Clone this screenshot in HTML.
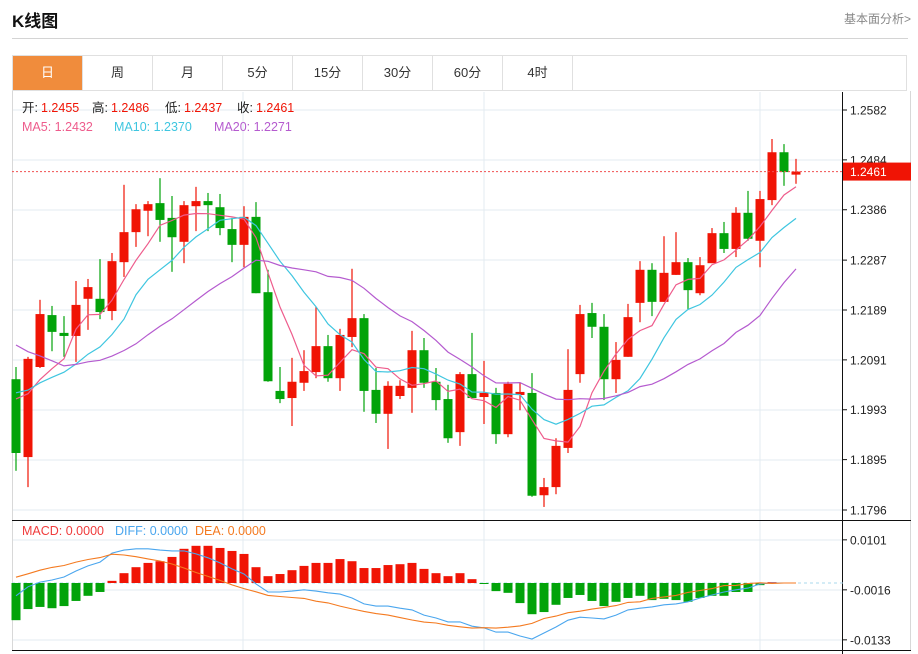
<!DOCTYPE html>
<html><head><meta charset="utf-8">
<style>
body{margin:0;background:#fff;font-family:"Liberation Sans","Noto Sans CJK SC",sans-serif;}
#wrap{position:relative;width:918px;height:654px;overflow:hidden;}
.title{position:absolute;left:12px;top:7px;font-size:17px;font-weight:bold;color:#111;}
.more{position:absolute;left:844px;top:10px;font-size:12px;color:#888;}
.hline{position:absolute;left:12px;top:38px;width:896px;height:1px;background:#d4d4d4;}
.tabs{position:absolute;left:12px;top:55px;width:895px;height:36px;border:1px solid #e0e0e0;box-sizing:border-box;}
.tab{position:absolute;top:0;height:34px;width:70px;border-right:1px solid #e0e0e0;box-sizing:border-box;text-align:center;line-height:34px;font-size:13px;color:#333;}
.tab.on{background:#f08c3c;color:#fff;}
</style></head><body>
<div id="wrap">
<div class="title">K线图</div>
<div class="more">基本面分析&gt;</div>
<div class="hline"></div>
<div class="tabs">
<div class="tab on" style="left:0">日</div>
<div class="tab" style="left:70px">周</div>
<div class="tab" style="left:140px">月</div>
<div class="tab" style="left:210px">5分</div>
<div class="tab" style="left:280px">15分</div>
<div class="tab" style="left:350px">30分</div>
<div class="tab" style="left:420px">60分</div>
<div class="tab" style="left:490px">4时</div>
</div>
<svg id="chart" width="918" height="654" style="position:absolute;left:0;top:0"></svg>
</div>
<script>
const opens=[1.2053,1.1900,1.2077,1.2179,1.2144,1.2138,1.2211,1.2211,1.2187,1.2283,1.2342,1.2384,1.2399,1.2370,1.2323,1.2393,1.2403,1.2391,1.2348,1.2317,1.2372,1.2224,1.2030,1.2016,1.2046,1.2067,1.2118,1.2055,1.2136,1.2173,1.2032,1.1985,1.2020,1.2036,1.2110,1.2048,1.2014,1.1949,1.2063,1.2018,1.2026,1.1945,1.2022,1.2026,1.1825,1.1841,1.1918,1.2063,1.2183,1.2156,1.2053,1.2097,1.2203,1.2268,1.2205,1.2258,1.2283,1.2222,1.2281,1.2340,1.2309,1.2380,1.2325,1.2405,1.2499,1.2455];
const highs=[1.2077,1.2097,1.2209,1.2197,1.2177,1.2246,1.2250,1.2289,1.2301,1.2435,1.2397,1.2403,1.2448,1.2413,1.2403,1.2431,1.2419,1.2417,1.2370,1.2393,1.2401,1.2268,1.2077,1.2095,1.2110,1.2195,1.2140,1.2152,1.2270,1.2181,1.2075,1.2049,1.2051,1.2148,1.2134,1.2075,1.2042,1.2067,1.2144,1.2089,1.2036,1.2048,1.2046,1.2065,1.1859,1.1937,1.2112,1.2199,1.2203,1.2181,1.2126,1.2201,1.2285,1.2281,1.2334,1.2342,1.2291,1.2293,1.2350,1.2362,1.2391,1.2423,1.2423,1.2525,1.2515,1.2486];
const lows=[1.1873,1.1841,1.2075,1.2108,1.2097,1.2087,1.2150,1.2171,1.2169,1.2254,1.2313,1.2334,1.2323,1.2264,1.2281,1.2344,1.2344,1.2336,1.2283,1.2273,1.2222,1.2048,1.2006,1.1961,1.2030,1.2055,1.2048,1.2030,1.2116,1.1989,1.1967,1.1916,1.2014,1.1987,1.2036,1.1992,1.1928,1.1922,1.2016,1.1965,1.1926,1.1939,1.1992,1.1822,1.1802,1.1827,1.1908,1.2046,1.2134,1.2012,1.2026,1.2097,1.2165,1.2177,1.2205,1.2258,1.2191,1.2218,1.2281,1.2301,1.2293,1.2325,1.2273,1.2395,1.2433,1.2437];
const closes=[1.1908,1.2093,1.2181,1.2146,1.2138,1.2199,1.2234,1.2185,1.2285,1.2342,1.2387,1.2397,1.2366,1.2332,1.2395,1.2403,1.2395,1.2350,1.2317,1.2372,1.2222,1.2049,1.2014,1.2048,1.2069,1.2118,1.2055,1.2140,1.2173,1.2030,1.1985,1.2040,1.2040,1.2110,1.2046,1.2012,1.1937,1.2063,1.2016,1.2026,1.1945,1.2044,1.2028,1.1824,1.1841,1.1922,1.2032,1.2181,1.2156,1.2053,1.2091,1.2175,1.2268,1.2205,1.2262,1.2283,1.2228,1.2277,1.2340,1.2309,1.2380,1.2329,1.2407,1.2499,1.2460,1.2461];
const priorCloses=[1.2356,1.2346,1.2342,1.2338,1.2140,1.2130,1.2126,1.2122,1.2122,1.2122,1.2038,1.2038,1.2038,1.2038,1.2038,1.2042,1.2042,1.2040,1.2040];
const macdHist=[-0.0087,-0.0061,-0.0056,-0.0059,-0.0054,-0.0042,-0.0030,-0.0021,0.0005,0.0023,0.0037,0.0047,0.0051,0.0061,0.0080,0.0087,0.0087,0.0082,0.0075,0.0068,0.0037,0.0016,0.0021,0.0030,0.0040,0.0047,0.0047,0.0056,0.0051,0.0035,0.0035,0.0042,0.0044,0.0047,0.0033,0.0023,0.0016,0.0023,0.0009,-0.0001,-0.0019,-0.0023,-0.0047,-0.0073,-0.0068,-0.0051,-0.0035,-0.0028,-0.0042,-0.0054,-0.0044,-0.0035,-0.0030,-0.0040,-0.0037,-0.0040,-0.0044,-0.0035,-0.0030,-0.0030,-0.0021,-0.0021,-0.0005,0.0002,0,0];
const diffVals=[-0.0030,-0.0009,0.0002,0.0007,0.0014,0.0028,0.0040,0.0049,0.0070,0.0077,0.0080,0.0080,0.0077,0.0075,0.0075,0.0068,0.0059,0.0047,0.0033,0.0021,-0.0002,-0.0021,-0.0021,-0.0019,-0.0016,-0.0019,-0.0023,-0.0026,-0.0035,-0.0049,-0.0054,-0.0054,-0.0059,-0.0063,-0.0075,-0.0082,-0.0091,-0.0091,-0.0101,-0.0105,-0.0115,-0.0115,-0.0124,-0.0131,-0.0117,-0.0103,-0.0087,-0.0080,-0.0082,-0.0084,-0.0075,-0.0063,-0.0059,-0.0056,-0.0051,-0.0049,-0.0044,-0.0035,-0.0028,-0.0021,-0.0016,-0.0012,-0.0002,0,0,0];
const priceTicks=["1.2582","1.2484","1.2386","1.2287","1.2189","1.2091","1.1993","1.1895","1.1796"];
const macdTicks=["0.0101","-0.0016","-0.0133"];

const NS="http://www.w3.org/2000/svg";
const svg=document.getElementById('chart');
function mk(tag,attrs,parent){const e=document.createElementNS(NS,tag);for(const k in attrs)e.setAttribute(k,attrs[k]);(parent||svg).appendChild(e);return e;}
const RED="#f01405",GREEN="#02a30a";
const xOf=i=>16+12*i;
const yP=p=>110+(1.2582-p)/0.0001965;
const yM=v=>583-v/0.000234;

// frame & grid
let g=mk('g',{});


for(let k=0;k<9;k++){mk('line',{x1:12,x2:843,y1:110+50*k,y2:110+50*k,stroke:'#e3ebf1','stroke-width':1},g);}
[540,590,640].forEach(y=>mk('line',{x1:12,x2:843,y1:y,y2:y,stroke:'#e3ebf1','stroke-width':1},g));
[243,484,760].forEach(x=>mk('line',{x1:x,x2:x,y1:92,y2:650,stroke:'#e3ebf1','stroke-width':1},g));
mk('line',{x1:12.5,x2:12.5,y1:91,y2:651,stroke:'#d8d8d8'},g);
mk('line',{x1:910.5,x2:910.5,y1:91,y2:651,stroke:'#d8d8d8'},g);
mk('line',{x1:12,x2:911,y1:520.5,y2:520.5,stroke:'#111'},g);
mk('line',{x1:12,x2:911,y1:650.5,y2:650.5,stroke:'#111'},g);
mk('line',{x1:842.5,x2:842.5,y1:92,y2:654,stroke:'#111'},g);

// price axis
priceTicks.forEach((t,k)=>{const y=yP(parseFloat(t));
 mk('line',{x1:843,x2:847,y1:y,y2:y,stroke:'#111'});
 const tx=mk('text',{x:850,y:y+4.5,'font-size':12,fill:'#222'});tx.textContent=t;
 
 });
macdTicks.forEach(t=>{const y=yM(parseFloat(t));
 mk('line',{x1:843,x2:847,y1:y,y2:y,stroke:'#111'});
 const tx=mk('text',{x:850,y:y+4.5,'font-size':12,fill:'#222'});tx.textContent=t;
 
 });

// candles
closes.forEach((c,i)=>{const o=opens[i],up=c>=o,col=up?RED:GREEN,x=xOf(i);
 const cg=mk('g',{});
 
 
 mk('line',{x1:x,x2:x,y1:yP(highs[i]),y2:yP(lows[i]),stroke:col,'stroke-width':1.2},cg);
 const t=yP(Math.max(o,c)),b=yP(Math.min(o,c));
 mk('rect',{x:x-4.5,y:t,width:9,height:Math.max(b-t,1.5),fill:col},cg);});

// moving averages
const allC=priorCloses.concat(closes);
function ma(n){return closes.map((_,i)=>{const e=i+priorCloses.length+1;let s=0;for(let j=e-n;j<e;j++)s+=allC[j];return s/n;});}
[[5,'#ee5c8c','ma5-line'],[10,'#3fc6e0','ma10-line'],[20,'#b55bcf','ma20-line']].forEach(([n,col,name])=>{
 const v=ma(n);const pl=mk('polyline',{points:v.map((p,i)=>xOf(i)+','+yP(p).toFixed(1)).join(' '),fill:'none',stroke:col,'stroke-width':1.2});
 
 });

// last price line
const lp=closes[closes.length-1];
mk('line',{x1:12,x2:843,y1:yP(lp),y2:yP(lp),stroke:'#f05050','stroke-width':1,'stroke-dasharray':'2,2'});
const lb=mk('rect',{x:843,y:yP(lp)-9,width:68,height:18,fill:'#f01405'});


const lt=mk('text',{x:850,y:yP(lp)+4.5,'font-size':12,fill:'#fff'});lt.textContent=lp.toFixed(4);

// MACD
mk('line',{x1:12,x2:843,y1:583,y2:583,stroke:'#a8d8ee','stroke-dasharray':'3,3'});
macdHist.forEach((v,i)=>{if(Math.abs(v)<0.00005)return;const y=yM(v);
 const r=mk('rect',{x:xOf(i)-4.5,y:Math.min(y,583),width:9,height:Math.max(Math.abs(y-583),1),fill:v>=0?RED:GREEN});
 
 });
const deaVals=diffVals.map((d,i)=>d-macdHist[i]/2);
const dl=mk('polyline',{points:diffVals.map((v,i)=>xOf(i)+','+yM(v).toFixed(1)).join(' '),fill:'none',stroke:'#4aa6ee','stroke-width':1.1});


const el2=mk('polyline',{points:deaVals.map((v,i)=>xOf(i)+','+yM(v).toFixed(1)).join(' '),fill:'none',stroke:'#f47a20','stroke-width':1.1});



// legends
function txt(x,y,s,col,name){const t=mk('text',{x:x,y:y,'font-size':12.5,fill:col});t.textContent=s;
 
 return t;}
txt(22,112,'开:','#222','open-label');txt(41,112,'1.2455',RED,'open-value');
txt(92,112,'高:','#222','high-label');txt(111,112,'1.2486',RED,'high-value');
txt(165,112,'低:','#222','low-label');txt(184,112,'1.2437',RED,'low-value');
txt(237,112,'收:','#222','close-label');txt(256,112,'1.2461',RED,'close-value');
txt(22,131,'MA5: 1.2432','#ee5c8c','ma5-legend');
txt(114,131,'MA10: 1.2370','#3fc6e0','ma10-legend');
txt(214,131,'MA20: 1.2271','#b55bcf','ma20-legend');
txt(22,535,'MACD: 0.0000','#f03c3c','macd-legend');
txt(115,535,'DIFF: 0.0000','#4aa6ee','diff-legend');
txt(195,535,'DEA: 0.0000','#f47a20','dea-legend');
</script>
</body></html>
